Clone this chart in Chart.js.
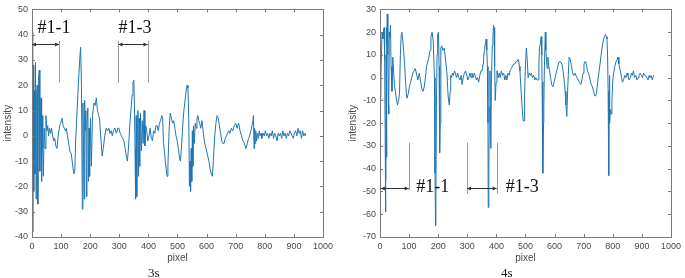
<!DOCTYPE html>
<html>
<head>
<meta charset="utf-8">
<script src="https://cdn.jsdelivr.net/npm/chart.js@4.4.1/dist/chart.umd.min.js"></script>
<style>
	body{margin:0;background:#fff;width:685px;height:278px;position:relative;overflow:hidden;}
	.box{position:absolute;top:0;}
	.cap{position:absolute;top:265px;font:13px "Liberation Serif","Times New Roman",serif;color:#111;}
</style>
</head>
<body>
<div class="box" style="left:0"><canvas id="c3s" width="337" height="266"></canvas></div>
<div class="box" style="left:345px"><canvas id="c4s" width="340" height="266"></canvas></div>
<div class="cap" style="left:148px">3s</div>
<div class="cap" style="left:501px">4s</div>
<script>
/*	intensity profiles along pixel */

let pixel3s = [1,2,3,4,6,8,10,12,14,16,18,20,22,25,27,29,31,33,35,37,39,42,45,48,51,54,57,60,64,67,71,75,78,82,86,90,95,99,103,107,111,115,118,122,126,130,135,140,144,147,150,155,160,164,167,170,173,175,177,179,181,183,185,187,189,192,194,196,198,201,204,208,213,217,221,225,229,232,236,241,245,250,255,260,264,268,272,276,280,285,290,295,299,303,307,312,316,320,324,328,332,336,340,344,347,350,352,354,356,358,360,362,364,366,368,370,373,376,379,382,385,388,391,394,398,402,406,410,414,418,422,426,430,434,438,442,446,449,452,455,458,461,464,467,471,475,479,483,487,491,495,499,503,507,510,514,518,522,526,530,533,536,539,541,543,545,547,549,551,553,555,558,561,564,567,570,573,576,580,584,588,592,596,600,604,608,612,616,620,624,628,632,636,640,644,648,652,656,660,664,668,672,676,680,685,690,695,700,705,710,715,720,725,730,735,740,744,748,752,756,759,761,763,765,767,769,772,775,778,781,784,787,790,794,798,802,806,810,814,818,822,826,830,834,838,842,846,850,854,858,862,866,870,874,878,882,886,890,894,898,902,906,910,914,918,922,926,930,934,938,940],
	intensity3s = [28,41,-38,28,-22,18,-15,29,-25,17,20,-27,22,26,-14,10,15,-18,8,-5,-16,3,-5,8,2,4,0,3,1,3,0,-2,-1,-4,-5,0,4,5,7,4,3,2,3,0,-3,-6,-7,-12,-15,-14,-2,10,22,30,35,20,-29,13,-5,-25,14,2,10,-24,5,11,-18,3,-16,7,-12,8,13,12,15,10,8,7,0,-8,-5,0,3,2,3,1,2,0,2,3,1,3,3,1,0,-1,-2,-5,-8,-10,-4,4,10,16,21,22,12,-5,-25,8,-24,5,10,-16,7,-12,9,-6,6,-3,10,-4,4,2,-2,0,3,-1,-2,2,1,4,4,2,5,6,8,7,-3,-6,-10,-13,-16,-12,2,9,7,5,6,3,0,-2,-5,-9,-10,-4,4,10,14,18,20,19,5,-20,-10,-22,-5,-18,2,-12,4,-3,5,3,7,8,6,5,3,6,2,-2,-4,-6,-8,-10,-13,-15,-16,-8,0,5,8,7,4,1,-2,-3,-3,-1,0,1,2,1,3,2,4,5,3,5,2,0,-2,-3,-5,-3,-1,0,2,4,6,8,-5,3,-3,2,-2,1,-1,2,0,1,-1,1,0,2,0,1,-1,1,0,2,-1,1,0,-2,1,0,1,-1,2,0,1,-1,1,0,2,1,0,-1,1,2,0,3,1,2,-1,2,0,1,0];

let pixel4s = [0,2,4,7,10,12,14,16,18,19,20,21,22,23,24,25,27,29,30,32,34,36,38,41,44,47,50,53,56,60,64,67,70,73,75,78,81,84,88,91,93,97,101,105,109,113,117,121,125,130,135,140,144,148,152,156,160,164,168,172,175,179,183,187,189,191,192,194,196,198,201,203,205,207,209,212,216,221,226,230,234,238,241,243,246,249,252,256,259,263,267,271,275,279,282,286,290,294,298,302,305,309,313,316,320,324,327,331,335,339,343,347,351,354,356,359,362,365,367,369,371,372,374,376,378,381,383,386,388,390,392,394,396,399,402,406,410,413,417,421,425,429,433,436,440,444,447,451,455,459,463,467,470,474,476,479,481,484,487,490,492,495,497,500,503,506,509,513,517,520,524,528,532,536,540,543,546,548,551,554,556,557,559,560,562,563,565,568,570,573,575,577,580,582,586,590,594,598,602,605,609,613,616,620,625,629,633,636,639,642,645,648,650,654,658,662,666,670,673,677,681,685,690,694,698,701,704,707,710,713,716,719,722,726,730,734,738,741,744,748,752,756,760,763,767,771,775,778,780,782,784,786,787,788,790,792,795,797,800,803,807,811,815,818,821,824,826,830,833,837,841,845,849,852,856,860,864,867,871,875,879,883,887,890,894,898,902,906,910,913,917,921,925,928,932,936,940],
	intensity4s = [-2,-10,5,20,17,21,22,8,-30,-59,-45,10,22,-35,15,28,10,-12,-16,20,18,23,5,-6,9,2,-4,-6,-9,-12,-10,-7,10,19,20,17,12,7,-2,-8,-9,-7,-4,-2,0,2,3,4,2,-1,2,-2,-5,-6,-4,0,5,7,9,12,18,20,16,0,-42,-65,-55,-13,10,19,20,5,-33,-20,13,14,12,13,7,2,-8,-12,-6,1,0,2,1,3,2,0,2,0,-1,1,-3,0,2,3,1,-1,0,2,0,2,0,2,1,-1,0,-2,1,3,3,6,9,12,15,17,12,5,-20,-57,-40,-13,3,-31,0,14,18,23,22,5,-10,-2,3,0,2,0,3,1,2,-1,1,-1,2,1,3,4,5,6,6,7,7,8,8,5,3,-4,-10,-16,-19,-19,-7,6,13,8,0,2,1,2,0,1,-1,0,-1,-1,6,13,15,18,10,-2,-30,-42,-20,-13,5,20,12,6,4,9,5,4,0,-3,-4,-2,0,2,4,6,7,7,6,3,-1,-6,-12,-17,-5,4,9,8,5,2,1,2,1,0,-1,-2,-3,-1,2,6,7,7,5,3,2,1,-1,-3,-4,-6,-8,-8,-7,-2,2,6,10,13,16,18,19,18,17,10,-6,-43,-20,1,-20,-14,-16,-10,-1,2,5,7,8,9,6,4,3,0,-2,-1,1,0,2,1,-1,0,2,1,3,0,1,-1,0,1,2,1,0,2,1,1,0,-1,1,0,1,-1,1];

let xTicks = [0,100,200,300,400,500,600,700,800,900,1000];

// bracket marks: [text, from, to, arrowY, lineTop, lineBottom, textX, textY]
let marks3s = [
	["#1-1", 0, 93, 36.5, 37.5, 21, 19, 42.6],
	["#1-3", 297, 397, 36.5, 37.5, 21, 297, 42.6]
];
let marks4s = [
	["#1-1", 3, 99, -48.3, -28.6, -49.4, 125, -48],
	["#1-3", 299, 401, -48.3, -28.6, -51, 432, -48]
];

const boxColor = "#7a7a7a",
	tickColor = "#4a4a4a",
	lineColor = "#2176b3";

const boxPlugin = {
	id:"box",
	afterDatasetsDraw(chart){
		let ctx = chart.ctx, a = chart.chartArea,
			xs = chart.scales.x, ys = chart.scales.y;
		ctx.save();
		ctx.strokeStyle = boxColor;
		ctx.lineWidth = 1;
		ctx.strokeRect(Math.round(a.left)+0.5, Math.round(a.top)+0.5, Math.round(a.right-a.left), Math.round(a.bottom-a.top));
		ctx.beginPath();
		xs.ticks.forEach(t => {
			let px = Math.round(xs.getPixelForValue(t.value))+0.5;
			ctx.moveTo(px, a.bottom); ctx.lineTo(px, a.bottom-3);
			ctx.moveTo(px, a.top); ctx.lineTo(px, a.top+3);
		});
		ys.ticks.forEach(t => {
			let py = Math.round(ys.getPixelForValue(t.value))+0.5;
			ctx.moveTo(a.left, py); ctx.lineTo(a.left+3, py);
			ctx.moveTo(a.right, py); ctx.lineTo(a.right-3, py);
		});
		ctx.stroke();

		//brackets
		(chart.options.plugins.box.marks || []).forEach(m => {
			let x1 = xs.getPixelForValue(m[1]), x2 = xs.getPixelForValue(m[2]),
				ay = Math.round(ys.getPixelForValue(m[3]))+0.5,
				t = ys.getPixelForValue(m[4]), b = ys.getPixelForValue(m[5]);
			ctx.strokeStyle = "#9a9a9a";
			ctx.beginPath();
			[x1, x2].forEach(x => {
				if(x <= a.left+1) return;
				ctx.moveTo(Math.round(x)+0.5, t); ctx.lineTo(Math.round(x)+0.5, b);
			});
			ctx.stroke();
			ctx.strokeStyle = "#333"; ctx.fillStyle = "#333";
			ctx.beginPath(); ctx.moveTo(x1, ay); ctx.lineTo(x2, ay); ctx.stroke();
			ctx.beginPath();
			ctx.moveTo(x1, ay); ctx.lineTo(x1+4, ay-2); ctx.lineTo(x1+4, ay+2); ctx.closePath();
			ctx.moveTo(x2, ay); ctx.lineTo(x2-4, ay-2); ctx.lineTo(x2-4, ay+2); ctx.closePath();
			ctx.fill();
			ctx.font = '18px "Liberation Serif","Times New Roman",serif';
			ctx.textAlign = "left"; ctx.textBaseline = "middle";
			ctx.fillStyle = "#111";
			ctx.fillText(m[0], xs.getPixelForValue(m[6]), ys.getPixelForValue(m[7]));
		});
		ctx.restore();
	}
};

const makeChart = function(id, xs, ys, yMin, yMax, axisWidth, padRight, marks){
	let pts = xs.map((x, i) => ({x:x, y:ys[i]}));
	return new Chart(document.getElementById(id), {
		type:"line",
		data:{datasets:[{
			data:pts,
			borderColor:lineColor,
			borderWidth:1,
			pointRadius:0,
			fill:false,
			tension:0
		}]},
		options:{
			responsive:false,
			animation:false,
			devicePixelRatio:1,
			layout:{padding:{top:6, right:padRight, bottom:0, left:0}},
			plugins:{legend:{display:false}, tooltip:{enabled:false}, box:{marks:marks}},
			scales:{
				x:{
					type:"linear", min:0, max:1000,
					afterBuildTicks:(s) => { s.ticks = xTicks.map(v => ({value:v})); },
					afterFit:(s) => { s.height = 29; },
					grid:{display:false, drawTicks:false},
					border:{display:false},
					ticks:{padding:4, autoSkip:false, maxRotation:0, color:tickColor, callback:(v) => String(v), font:{family:"Liberation Sans, Arial, sans-serif", size:9}},
					title:{display:true, text:"pixel", color:tickColor, padding:{top:0, bottom:2}, font:{family:"Liberation Sans, Arial, sans-serif", size:10}}
				},
				y:{
					min:yMin, max:yMax,
					ticks:{stepSize:10, padding:4, color:tickColor, font:{family:"Liberation Sans, Arial, sans-serif", size:9}},
					afterFit:(s) => { s.width = axisWidth; },
					grid:{display:false, drawTicks:false},
					border:{display:false},
					title:{display:true, text:"intensity", color:tickColor, padding:{top:2, bottom:0}, font:{family:"Liberation Sans, Arial, sans-serif", size:10}}
				}
			}
		},
		plugins:[boxPlugin]
	});
};

makeChart("c3s", pixel3s, intensity3s, -40, 50, 32, 12, marks3s);
makeChart("c4s", pixel4s, intensity4s, -70, 30, 35, 12, marks4s);
</script>
</body>
</html>
